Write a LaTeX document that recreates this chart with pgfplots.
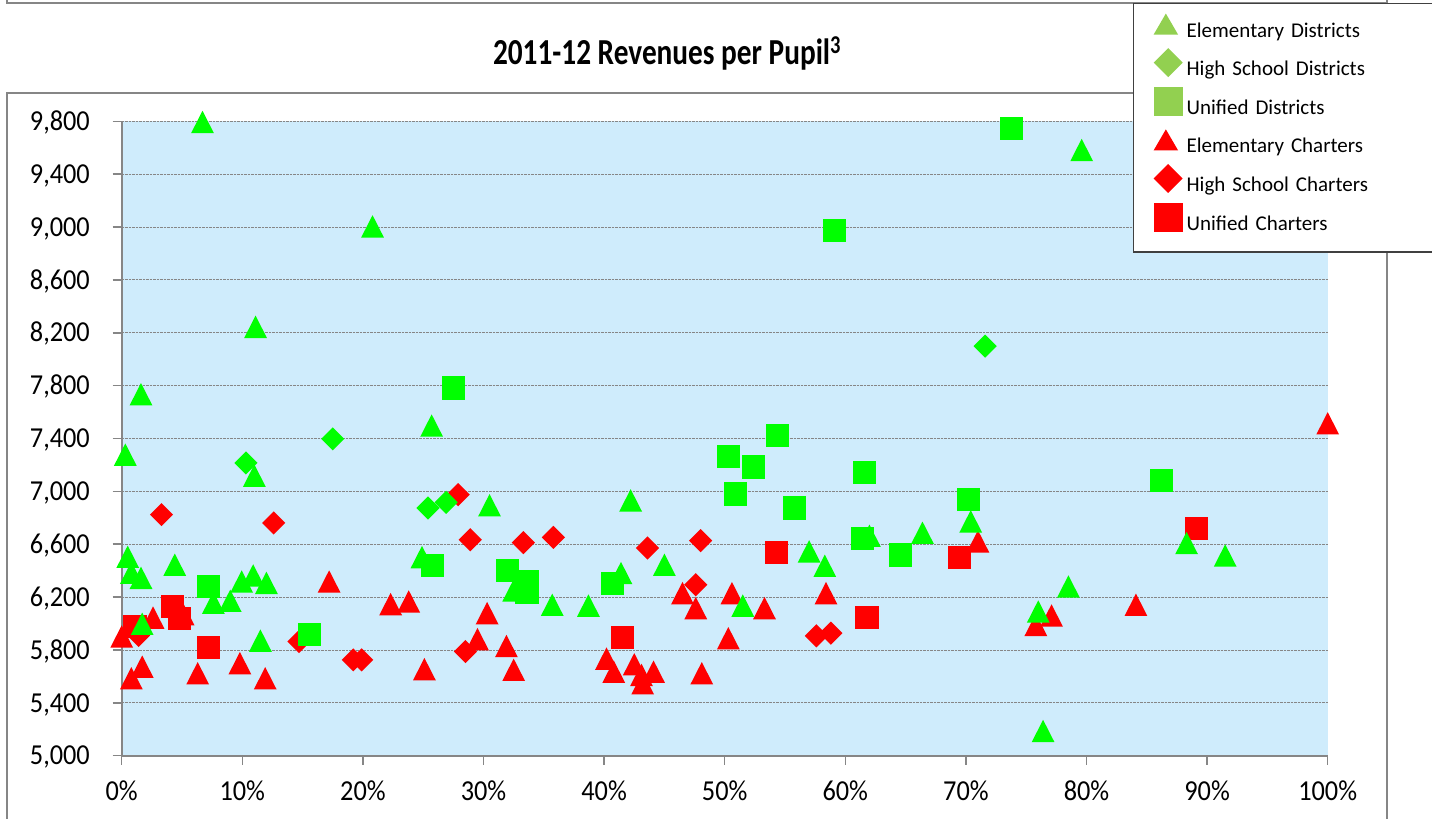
\documentclass[border=0pt]{standalone}
\usepackage{pgfplots}
\pgfplotsset{compat=1.18}
\usepackage{fontspec}
\setmainfont{Carlito}
\definecolor{dgreen}{RGB}{0,255,0}
\definecolor{dred}{RGB}{255,0,0}
\definecolor{lgreen}{RGB}{146,208,80}
\definecolor{bgblue}{RGB}{207,236,252}
\definecolor{axgray}{RGB}{134,134,134}
\definecolor{leggray}{RGB}{64,64,64}
\pgfdeclareplotmark{etri}{\pgfpathmoveto{\pgfqpoint{0pt}{11.2pt}}\pgfpathlineto{\pgfqpoint{11.4pt}{-11.2pt}}\pgfpathlineto{\pgfqpoint{-11.4pt}{-11.2pt}}\pgfpathclose\pgfusepathqfill}
\pgfdeclareplotmark{ediam}{\pgfpathmoveto{\pgfqpoint{0pt}{11.6pt}}\pgfpathlineto{\pgfqpoint{11.6pt}{0pt}}\pgfpathlineto{\pgfqpoint{0pt}{-11.6pt}}\pgfpathlineto{\pgfqpoint{-11.6pt}{0pt}}\pgfpathclose\pgfusepathqfill}
\pgfdeclareplotmark{esq}{\pgfpathrectangle{\pgfqpoint{-11.6pt}{-11.6pt}}{\pgfqpoint{23.2pt}{23.2pt}}\pgfusepathqfill}
\newcommand{\legbox}{\path[use as bounding box, draw=none] (0pt,-4.5pt) rectangle (31pt,14pt);}
\begin{document}
\begin{tikzpicture}
\useasboundingbox (0pt,0pt) rectangle (1432pt,819pt);
\draw[axgray, line width=1.5pt] (7pt,830pt) -- (7pt,816pt) -- (1387pt,816pt) -- (1387pt,830pt);
\draw[axgray, line width=1.5pt] (7pt,-20pt) -- (7pt,726pt) -- (1387pt,726pt) -- (1387pt,-20pt);
\begin{axis}[
  at={(121.7pt,63.3pt)}, anchor=south west,
  width=1206pt, height=634.4pt, scale only axis,
  xmin=0, xmax=100, ymin=5000, ymax=9800,
  clip=false,
  axis background/.style={fill=bgblue},
  axis x line*=bottom, axis y line*=left,
  axis line style={-, draw=axgray, line width=2pt},
  xtick={0,10,...,100},
  xticklabel={\scalebox{1}[1.1]{\pgfmathprintnumber{\tick}\%}},
  ytick={5000,5400,...,9800},
  yticklabel={\scalebox{1}[1.1]{\pgfmathprintnumber{\tick}}},
  scaled ticks=false,
  /pgf/number format/1000 sep={,},
  /pgf/number format/assume math mode=true,
  tick align=outside, major tick length=9pt,
  tick style={draw=axgray, line width=1.5pt},
  xtick pos=bottom, ytick pos=left,
  ymajorgrids,
  major grid style={draw=axgray, densely dotted, line width=0.8pt},
  tick label style={font=\fontsize{26.3}{30}\selectfont, inner sep=0pt},
  xticklabel style={anchor=base, yshift=-36pt},
  yticklabel style={anchor=base east, xshift=-22.7pt, yshift=-9.2pt},
  title={\scalebox{1}[1.25]{\textbf{2011-12 Revenues per Pupil\textsuperscript{3}}}},
  title style={at={(0.4522,1.0797)}, anchor=base, font=\fontsize{29.3}{34}\selectfont, inner sep=0pt},
  legend style={at={(0.83856,1.18648)}, anchor=north west,
    draw=leggray, line width=1.3pt, fill=white,
    inner xsep=20pt, inner ysep=17.4pt, row sep=18.1pt, column sep=0pt,
    font=\fontsize{21}{25}\selectfont,
    cells={anchor=base west, inner sep=0pt, outer sep=0pt, text height=14pt, text depth=4.5pt, text width=250pt, align=left}},
]
\addlegendimage{legend image code/.code={\legbox \fill[lgreen, draw=none] (0pt,2.5pt) -- (24.4pt,2.5pt) -- (12.2pt,23.5pt) -- cycle;}}
\addlegendentry{Elementary Districts}
\addlegendimage{legend image code/.code={\legbox \fill[lgreen, draw=none] (0pt,13pt) -- (14.5pt,27.5pt) -- (29pt,13pt) -- (14.5pt,-1.5pt) -- cycle;}}
\addlegendentry{High School Districts}
\addlegendimage{legend image code/.code={\legbox \fill[lgreen, draw=none] (0pt,-1.5pt) rectangle (29pt,27.5pt);}}
\addlegendentry{Unified Districts}
\addlegendimage{legend image code/.code={\legbox \fill[dred, draw=none] (0pt,2.5pt) -- (24.4pt,2.5pt) -- (12.2pt,23.5pt) -- cycle;}}
\addlegendentry{Elementary Charters}
\addlegendimage{legend image code/.code={\legbox \fill[dred, draw=none] (0pt,13pt) -- (14.5pt,27.5pt) -- (29pt,13pt) -- (14.5pt,-1.5pt) -- cycle;}}
\addlegendentry{High School Charters}
\addlegendimage{legend image code/.code={\legbox \fill[dred, draw=none] (0pt,-1.5pt) rectangle (29pt,27.5pt);}}
\addlegendentry{Unified Charters}
% Elementary Charters
\addplot[only marks, mark=etri, color=dred, forget plot] coordinates {
(100,7515)(71.0,6621)(77.1,6061)(75.8,5990)(84.1,6142)(58.4,6230)(53.3,6117)(50.6,6230)
(50.3,5889)(48.1,5624)(46.5,6230)(47.6,6117)(40.2,5735)(40.8,5636)(42.5,5692)(43.1,5611)
(43.2,5548)(44.1,5636)(32.5,5650)(31.9,5830)(30.3,6079)(29.5,5882)(25.1,5655)(22.3,6147)
(23.8,6167)(17.2,6318)(9.8,5700)(11.9,5586)(6.3,5624)(0.8,5586)(1.7,5674)(0,5902)
(2.6,6045)(5.1,6070)};
% High School Charters
\addplot[only marks, mark=ediam, color=dred, forget plot] coordinates {
(3.3,6824)(12.6,6761)(27.9,6975)(28.9,6634)(28.5,5788)(19.2,5725)(19.9,5725)(14.7,5864)
(1.4,5910)(33.3,6612)(35.8,6652)(43.6,6571)(48.0,6627)(47.6,6293)(57.6,5907)(58.8,5927)};
% Unified Charters
\addplot[only marks, mark=esq, color=dred, forget plot] coordinates {
(89.1,6717)(69.5,6500)(54.3,6538)(61.8,6045)(41.5,5894)(7.2,5818)(4.2,6129)(4.8,6036)(1.1,5977)};
% Elementary Districts
\addplot[only marks, mark=etri, color=dgreen, forget plot] coordinates {
(6.7,9795)(20.8,9005)(11.1,8245)(1.6,7735)(25.7,7498)(0.3,7278)(11.0,7119)(30.5,6895)
(42.2,6932)(0.5,6505)(0.8,6384)(1.6,6346)(4.4,6445)(1.7,5998)(7.6,6157)(9.0,6172)
(9.95,6318)(10.9,6364)(12.0,6308)(11.5,5871)(24.9,6503)(32.5,6250)(41.4,6382)(45.0,6445)
(35.7,6142)(38.7,6136)(51.5,6136)(57.0,6546)(58.3,6437)(62.0,6664)(66.4,6687)(70.4,6773)
(76.0,6091)(78.5,6280)(88.3,6609)(91.5,6515)(76.4,5187)(79.6,9583)};
% High School Districts
\addplot[only marks, mark=ediam, color=dgreen, forget plot] coordinates {
(17.5,7397)(10.3,7215)(25.4,6874)(26.9,6917)(71.6,8099)};
% Unified Districts
\addplot[only marks, mark=esq, color=dgreen, forget plot] coordinates {
(73.8,9743)(59.1,8975)(54.4,7420)(27.5,7782)(50.3,7265)(52.4,7185)(50.9,6980)(55.8,6874)
(61.6,7144)(61.4,6644)(64.6,6518)(70.2,6937)(86.2,7083)(7.2,6280)(25.8,6440)(32.0,6399)
(33.6,6318)(33.6,6235)(40.7,6301)(15.6,5920)};
\end{axis}
\end{tikzpicture}
\end{document}
